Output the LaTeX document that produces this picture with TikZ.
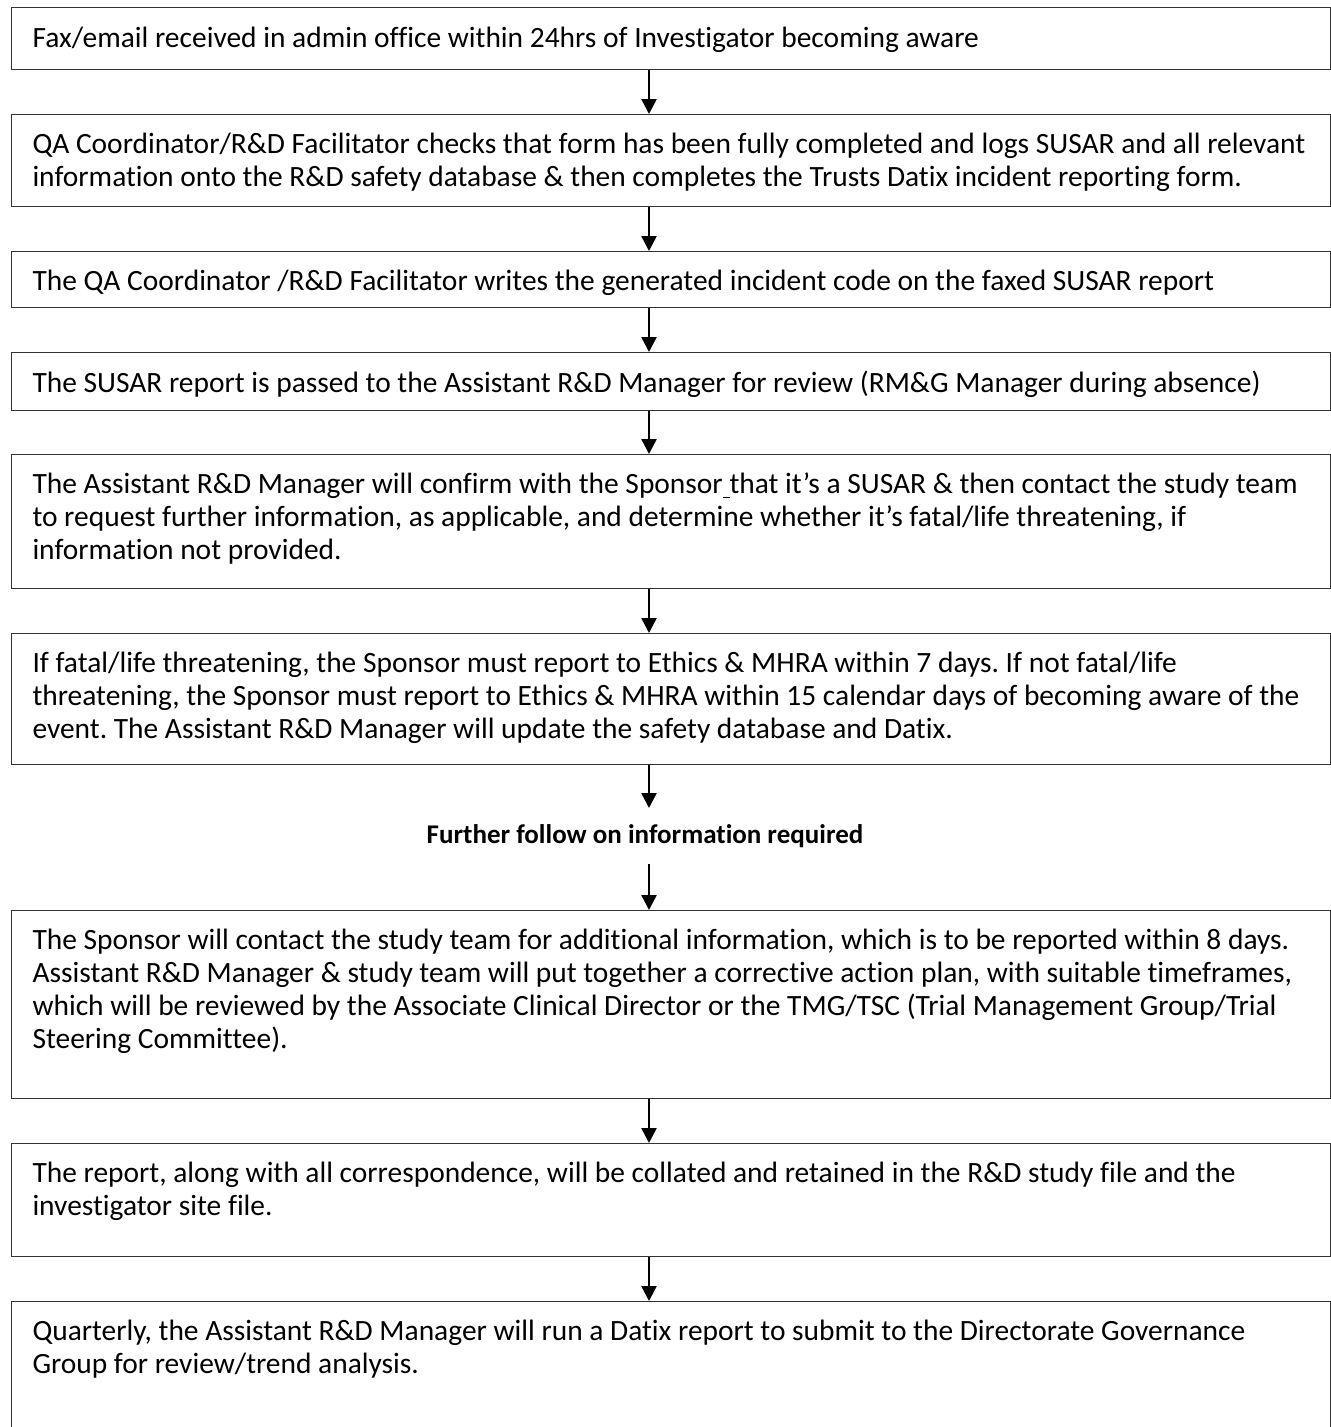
\documentclass[tikz,border=0pt]{standalone}
\usepackage{fontspec}
\setmainfont{Carlito}[Ligatures=CommonOff]
\usetikzlibrary{arrows.meta}
\frenchspacing

\tikzstyle{stepbox}=[draw=black!80,line width=0.55pt,rectangle,inner sep=0pt,anchor=north west,minimum width=527.6pt]
\tikzstyle{steptext}=[anchor=north west,inner sep=0pt,align=left,font=\fontsize{11.78}{13.25}\selectfont]
\tikzstyle{midnote}=[font=\fontsize{10.8}{13.2}\selectfont\bfseries,minimum height=22pt,inner sep=0pt]
\tikzstyle{flow}=[draw,line width=1pt,-{Triangle[width=6pt,length=6pt]}]
\newcommand{\pxunit}{0.4pt}

\begin{document}
\begin{tikzpicture}[x=\pxunit, y=-\pxunit]
    % page frame, the last box runs off the bottom
    \clip (0,0) rectangle (1331,1427);
    % First we draw the boxes (top/bottom edges)
    \foreach \ytop/\ybot/\name in {7/69/b1, 114/206/b2, 251/307/b3, 352/410/b4, 454/588/b5,
                                   633/764/b6, 910/1098/b7, 1143/1256/b8, 1301/1440/b9}
        \node[stepbox, minimum height={(\ybot-\ytop)*\pxunit}] (\name) at (11,\ytop) {};
    \coordinate (mid) at (649,0);
    % Then the texts inside them
    \node[steptext] (t1) at ([xshift=8.4pt,yshift=-7.8pt]b1.north west)
        {Fax/email received in admin office within 24hrs of Investigator becoming aware};
    \node[steptext] (t2) at ([xshift=8.4pt,yshift=-7.3pt]b2.north west)
        {QA Coordinator/R\&D Facilitator checks that form has been fully completed and logs SUSAR and all relevant\\
         information onto the R\&D safety database \& then completes the Trusts Datix incident reporting form.};
    \node[steptext] (t3) at ([xshift=8.4pt,yshift=-7.3pt]b3.north west)
        {The QA Coordinator /R\&D Facilitator writes the generated incident code on the faxed SUSAR report};
    \node[steptext] (t4) at ([xshift=8.4pt,yshift=-7.3pt]b4.north west)
        {The SUSAR report is passed to the Assistant R\&D Manager for review (RM\&G Manager during absence)};
    \node[steptext] (t5) at ([xshift=8.4pt,yshift=-7.3pt]b5.north west)
        {The Assistant R\&D Manager will confirm with the Sponsor\underline{\ }that it’s a SUSAR \& then contact the study team\\
         to request further information, as applicable, and determine whether it’s fatal/life threatening, if\\
         information not provided.};
    \node[steptext] (t6) at ([xshift=8.4pt,yshift=-7.3pt]b6.north west)
        {If fatal/life threatening, the Sponsor must report to Ethics \& MHRA within 7 days. If not fatal/life\\
         threatening, the Sponsor must report to Ethics \& MHRA within 15 calendar days of becoming aware of the\\
         event. The Assistant R\&D Manager will update the safety database and Datix.};
    \node[midnote] (note) at (645,836) {Further follow on information required};
    \node[steptext] (t7) at ([xshift=8.4pt,yshift=-7.3pt]b7.north west)
        {The Sponsor will contact the study team for additional information, which is to be reported within 8 days.\\
         Assistant R\&D Manager \& study team will put together a corrective action plan, with suitable timeframes,\\
         which will be reviewed by the Associate Clinical Director or the TMG/TSC (Trial Management Group/Trial\\
         Steering Committee).};
    \node[steptext] (t8) at ([xshift=8.4pt,yshift=-7.3pt]b8.north west)
        {The report, along with all correspondence, will be collated and retained in the R\&D study file and the\\
         investigator site file.};
    \node[steptext] (t9) at ([xshift=8.4pt,yshift=-7.3pt]b9.north west)
        {Quarterly, the Assistant R\&D Manager will run a Datix report to submit to the Directorate Governance\\
         Group for review/trend analysis.};
    % Connect the boxes with arrows
    \foreach \source/\dest in {b1/b2, b2/b3, b3/b4, b4/b5, b5/b6, b6/note, note/b7, b7/b8, b8/b9}
        \path[flow] (\source.south -| mid) -- (\dest.north -| mid);
\end{tikzpicture}
\end{document}
